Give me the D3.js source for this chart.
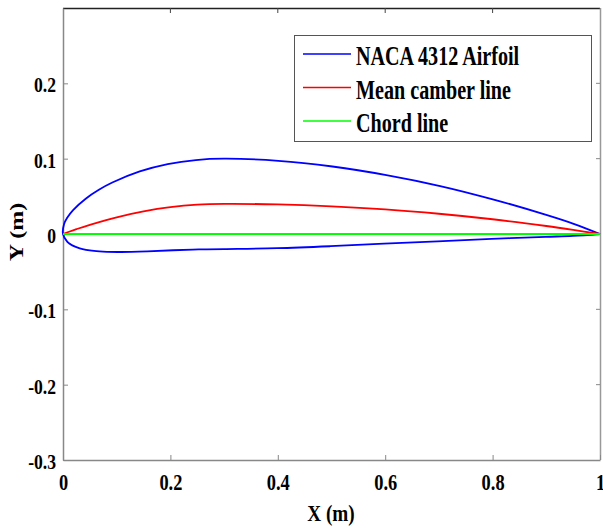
<!DOCTYPE html>
<html>
<head>
<meta charset="utf-8">
<script src="https://cdn.jsdelivr.net/npm/d3@7"></script>
<style>
  body { margin: 0; background: #fff; }
  svg text { font-family: "Liberation Serif", "Times New Roman", serif; font-weight: bold; fill: #000; }
</style>
</head>
<body>
<div id="chart"></div>
<script>
// NACA 4312 surface points (trailing edge -> leading edge)
const upperX = [1, 0.9509, 0.9014, 0.8021, 0.7024, 0.6022, 0.5017, 0.4010, 0.3, 0.2474, 0.1949, 0.1429, 0.0918, 0.0668, 0.0423, 0.0188, 0.0078, 0.0019, 0];
const upperY = [0, 0.0135, 0.0250, 0.0457, 0.0637, 0.0782, 0.0896, 0.0972, 0.1000, 0.0982, 0.0927, 0.0830, 0.0683, 0.0587, 0.0469, 0.0318, 0.0216, 0.0131, 0];
// leading edge -> trailing edge
const lowerX = [0, 0.0081, 0.0172, 0.0312, 0.0577, 0.0832, 0.1082, 0.1571, 0.2051, 0.2526, 0.3, 0.3991, 0.4983, 0.5978, 0.6976, 0.7979, 0.8986, 0.9492, 1];
const lowerY = [0, -0.0105, -0.0151, -0.0190, -0.0225, -0.0237, -0.0239, -0.0230, -0.0216, -0.0205, -0.0200, -0.0188, -0.0162, -0.0129, -0.0099, -0.0066, -0.0038, -0.0025, 0];

const camberX = [0, 0.0125, 0.025, 0.05, 0.1, 0.15, 0.2, 0.25, 0.3, 0.4, 0.5, 0.6, 0.7, 0.8, 0.9, 0.95, 1];
const camberY = [0, 0.0033, 0.0064, 0.0122, 0.0222, 0.0300, 0.0356, 0.0389, 0.0400, 0.0392, 0.0367, 0.0327, 0.0269, 0.0196, 0.0106, 0.0055, 0];

const chordX = [0, 1];
const chordY = [0, 0];

const xTicks = [0, 0.2, 0.4, 0.6, 0.8, 1];
const yTicks = [-0.3, -0.2, -0.1, 0, 0.1, 0.2];

const seriesNames = ['NACA 4312 Airfoil', 'Mean camber line', 'Chord line'];
const seriesColors = ['#0000ff', '#ff0000', '#00ff00'];

const W = 603, H = 529;
const plot = { left: 63, right: 600, top: 8, bottom: 460 };
const squeeze = 0.8; // text in the source looks horizontally condensed

const svg = d3.select('#chart').append('svg')
  .attr('width', W)
  .attr('height', H);

const xScale = d3.scaleLinear().domain([0, 1]).range([plot.left, plot.right]);
const yScale = d3.scaleLinear().domain([-0.3, 0.3]).range([plot.bottom, plot.top]);

const fmt = (d) => (d === 0 ? '0' : d === 1 ? '1' : d.toFixed(1));

// top / right box lines
svg.append('line')
  .attr('x1', plot.left).attr('x2', plot.right)
  .attr('y1', plot.top + 0.5).attr('y2', plot.top + 0.5)
  .attr('stroke', '#222').attr('stroke-width', 1.5);
svg.append('line')
  .attr('x1', plot.right + 0.5).attr('x2', plot.right + 0.5)
  .attr('y1', plot.top).attr('y2', plot.bottom)
  .attr('stroke', '#999').attr('stroke-width', 1.5);

// axes
const xAxis = d3.axisBottom(xScale).tickValues(xTicks).tickFormat(fmt).tickSizeInner(-5).tickSizeOuter(0);
const yAxis = d3.axisLeft(yScale).tickValues(yTicks).tickFormat(fmt).tickSizeInner(-5).tickSizeOuter(0);

const gx = svg.append('g').attr('transform', `translate(0,${plot.bottom})`).call(xAxis);
const gy = svg.append('g').attr('transform', `translate(${plot.left},0)`).call(yAxis);

[gx, gy].forEach((g) => {
  g.attr('font-family', null);
  g.select('.domain').attr('stroke', '#888').attr('stroke-width', 1.5);
  g.selectAll('.tick line').attr('stroke', '#888');
});

gx.selectAll('.tick text')
  .attr('y', 30).attr('dy', 0)
  .attr('transform', `scale(${squeeze},1)`)
  .style('font-size', '23px');
gy.selectAll('.tick text')
  .attr('x', -7 / squeeze).attr('dy', '0.38em')
  .attr('transform', `scale(${squeeze},1)`)
  .style('font-size', '22px');

// top ticks on the box
svg.append('g').selectAll('line').data(xTicks.slice(1, -1)).join('line')
  .attr('x1', (d) => xScale(d)).attr('x2', (d) => xScale(d))
  .attr('y1', plot.top).attr('y2', plot.top + 5)
  .attr('stroke', '#444');
svg.append('g').selectAll('line').data(yTicks.slice(1)).join('line')
  .attr('x1', plot.right - 4).attr('x2', plot.right)
  .attr('y1', (d) => yScale(d)).attr('y2', (d) => yScale(d))
  .attr('stroke', '#888');

// curves
const line = d3.line()
  .x((d) => xScale(d[0]))
  .y((d) => yScale(d[1]))
  .curve(d3.curveCatmullRom.alpha(0.5));

const airfoil = upperX.map((x, i) => [x, upperY[i]])
  .concat(lowerX.slice(1).map((x, i) => [x, lowerY[i + 1]]));
const camber = camberX.map((x, i) => [x, camberY[i]]);
const chord = chordX.map((x, i) => [x, chordY[i]]);

const curves = [airfoil, camber, chord];
svg.append('g').selectAll('path').data(curves).join('path')
  .attr('d', (d) => line(d))
  .attr('fill', 'none')
  .attr('stroke', (d, i) => seriesColors[i])
  .attr('stroke-width', 1.8);

// legend
const legend = svg.append('g').attr('transform', 'translate(294,35)');
legend.append('rect')
  .attr('x', 0.5).attr('y', 0.5)
  .attr('width', 297).attr('height', 106)
  .attr('fill', '#fff')
  .attr('stroke', '#555')
  .attr('stroke-width', 1);

const rows = legend.selectAll('g.row').data(seriesNames).join('g')
  .attr('class', 'row')
  .attr('transform', (d, i) => `translate(0,${19 + i * 33.5})`);
rows.append('line')
  .attr('x1', 9).attr('x2', 57)
  .attr('y1', 0).attr('y2', 0)
  .attr('stroke', (d, i) => seriesColors[i])
  .attr('stroke-width', 1.6);
rows.append('text')
  .attr('transform', 'translate(62,11) scale(0.76,1)')
  .style('font-size', '26.5px')
  .text((d) => d);

// axis labels
svg.append('text')
  .attr('transform', `translate(331,521) scale(${squeeze},1)`)
  .attr('text-anchor', 'middle')
  .style('font-size', '24px')
  .text('X (m)');
svg.append('text')
  .attr('transform', `translate(23,232) scale(${squeeze},1) rotate(-90)`)
  .attr('text-anchor', 'middle')
  .style('font-size', '24px')
  .text('Y (m)');
</script>
</body>
</html>
